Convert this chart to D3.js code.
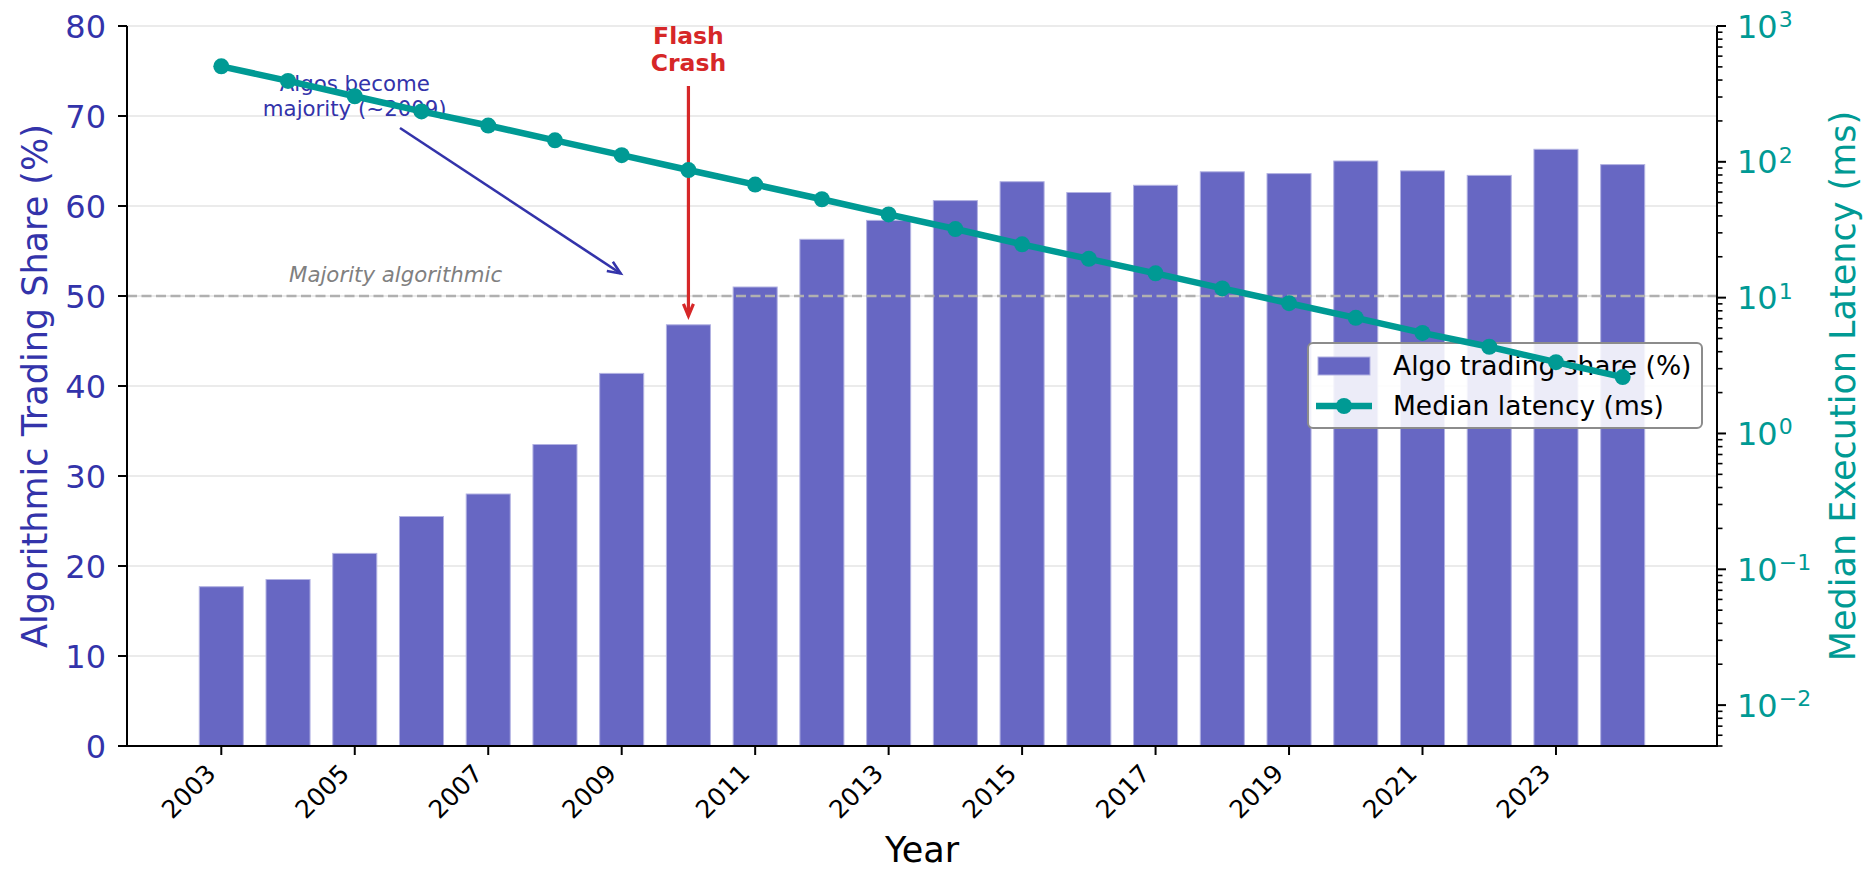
<!DOCTYPE html>
<html>
<head>
<meta charset="utf-8">
<script src="https://cdn.jsdelivr.net/npm/d3@7"></script>
<style>
html,body{margin:0;padding:0;background:#fff;}
svg{display:block;font-family:"DejaVu Sans",sans-serif;}
</style>
</head>
<body>
<svg id="chart" width="1866" height="874"></svg>
<script>
// ---- data ----
const years = [2003,2004,2005,2006,2007,2008,2009,2010,2011,2012,2013,2014,2015,2016,2017,2018,2019,2020,2021,2022,2023,2024];
const algoShare = [17.7,18.5,21.4,25.5,28.0,33.5,41.4,46.8,51.0,56.3,58.4,60.6,62.7,61.5,62.3,63.8,63.6,65.0,63.9,63.4,66.3,64.6];
const latencyMs = [505,394,304,235,185,144,112,87,68,53,41,32,24.7,19.3,15.1,11.7,9.1,7.1,5.5,4.35,3.35,2.6];
const leftTicks = [0,10,20,30,40,50,60,70,80];
const yearTicks = [2003,2005,2007,2009,2011,2013,2015,2017,2019,2021,2023];
const rightExps = [-2,-1,0,1,2,3];
const labels = {
  x: "Year",
  yLeft: "Algorithmic Trading Share (%)",
  yRight: "Median Execution Latency (ms)",
  bars: "Algo trading share (%)",
  line: "Median latency (ms)",
  majority: "Majority algorithmic",
  algoNote: ["Algos become", "majority (~2009)"],
  crash: ["Flash", "Crash"]
};
const majorityLevel = 50;
const crashYear = 2010, crashY = 47.8;
const algoNoteX = 2005, algoNoteTip = [2009, 52.5];

// ---- layout ----
const L = 127, R = 1717, T = 26, B = 746;
const barW = 0.66;
const span = (years[years.length-1] - years[0]) + barW;
const pad = span * 0.05;
const x = d3.scaleLinear()
  .domain([years[0] - barW/2 - pad, years[years.length-1] + barW/2 + pad])
  .range([L, R]);
const y = d3.scaleLinear().domain([0, 80]).range([B, T]);
const y2 = d3.scaleLog().domain([0.005, 1000]).range([B, T]);

const BLUE = "#3333AA", TEAL = "#009A94", RED = "#D62728";
const svg = d3.select("#chart");

// grid
svg.append("g").selectAll("line").data(leftTicks).join("line")
  .attr("x1", L).attr("x2", R)
  .attr("y1", d => y(d)).attr("y2", d => y(d))
  .attr("stroke", "#ebebeb").attr("stroke-width", 1.8);

// bars
svg.append("g").selectAll("rect").data(years).join("rect")
  .attr("x", (d) => x(d - barW/2))
  .attr("width", (d) => x(d + barW/2) - x(d - barW/2))
  .attr("y", (d, i) => y(algoShare[i]))
  .attr("height", (d, i) => y(0) - y(algoShare[i]))
  .attr("fill", "rgb(103,103,195)")
  .attr("stroke", "rgb(178,178,226)").attr("stroke-width", 1);

// majority line
svg.append("line")
  .attr("x1", L).attr("x2", R)
  .attr("y1", y(majorityLevel)).attr("y2", y(majorityLevel))
  .attr("stroke", "#b0b0b0").attr("stroke-width", 2.4)
  .attr("stroke-dasharray", "10,4.5");
svg.append("text")
  .attr("x", x(2004) + 1).attr("y", y(majorityLevel) - 14)
  .attr("font-size", 21.3).attr("font-style", "italic")
  .attr("fill", "#808080").text(labels.majority);

// arrow helper
function arrow(x1, y1, x2, y2, color, w, hl, hw) {
  const g = svg.append("g");
  g.append("line").attr("x1", x1).attr("y1", y1).attr("x2", x2).attr("y2", y2)
    .attr("stroke", color).attr("stroke-width", w);
  const a = Math.atan2(y2 - y1, x2 - x1);
  const bx = x2 - hl * Math.cos(a), by = y2 - hl * Math.sin(a);
  const px = -Math.sin(a) * hw, py = Math.cos(a) * hw;
  g.append("path")
    .attr("d", `M${bx+px},${by+py}L${x2},${y2}L${bx-px},${by-py}`)
    .attr("fill", "none").attr("stroke", color).attr("stroke-width", w)
    .attr("stroke-linejoin", "miter");
}

// algo note
const noteT = svg.append("text").attr("font-size", 21.3).attr("fill", BLUE)
  .attr("text-anchor", "middle");
noteT.append("tspan").attr("x", x(algoNoteX)).attr("y", 91).text(labels.algoNote[0]);
noteT.append("tspan").attr("x", x(algoNoteX)).attr("y", 116).text(labels.algoNote[1]);
arrow(400, 128, x(algoNoteTip[0]) - 1, y(algoNoteTip[1]), BLUE, 2.6, 13, 5.5);

// flash crash
const crT = svg.append("text").attr("font-size", 23.5).attr("font-weight", "bold")
  .attr("fill", RED).attr("text-anchor", "middle");
crT.append("tspan").attr("x", x(crashYear)).attr("y", 44).text(labels.crash[0]);
crT.append("tspan").attr("x", x(crashYear)).attr("y", 71).text(labels.crash[1]);
arrow(x(crashYear), 86, x(crashYear), y(crashY), RED, 3.2, 12, 5);

// legend
const lg = svg.append("g");
lg.append("rect").attr("x", 1308).attr("y", 343).attr("width", 394).attr("height", 85)
  .attr("rx", 5).attr("fill", "rgba(255,255,255,0.88)")
  .attr("stroke", "#8c8c8c").attr("stroke-width", 2);
lg.append("rect").attr("x", 1318).attr("y", 357).attr("width", 52).attr("height", 18)
  .attr("fill", "rgb(103,103,195)").attr("stroke", "rgb(178,178,226)").attr("stroke-width", 1);
lg.append("text").attr("x", 1393).attr("y", 375).attr("font-size", 26.5).attr("fill", "#000")
  .text(labels.bars);
lg.append("line").attr("x1", 1316).attr("x2", 1372).attr("y1", 406).attr("y2", 406)
  .attr("stroke", TEAL).attr("stroke-width", 6.5);
lg.append("circle").attr("cx", 1344).attr("cy", 406).attr("r", 8).attr("fill", TEAL);
lg.append("text").attr("x", 1393).attr("y", 415).attr("font-size", 26.5).attr("fill", "#000")
  .text(labels.line);

// left axis
const ax = svg.append("g");
ax.selectAll("line.lt").data(leftTicks).join("line").attr("class", "lt")
  .attr("x1", L - 9).attr("x2", L).attr("y1", d => y(d)).attr("y2", d => y(d))
  .attr("stroke", "#000").attr("stroke-width", 2);
ax.selectAll("text.lt").data(leftTicks).join("text").attr("class", "lt")
  .attr("x", L - 21).attr("y", d => y(d) + 11.5).attr("text-anchor", "end")
  .attr("font-size", 32).attr("fill", BLUE).text(d => d);

// bottom axis
ax.selectAll("line.bt").data(yearTicks).join("line").attr("class", "bt")
  .attr("x1", d => x(d)).attr("x2", d => x(d)).attr("y1", B).attr("y2", B + 9)
  .attr("stroke", "#000").attr("stroke-width", 2);
ax.selectAll("text.bt").data(yearTicks).join("text").attr("class", "bt")
  .attr("transform", d => `translate(${x(d) - 4},${775}) rotate(-45)`)
  .attr("text-anchor", "end").attr("font-size", 25).attr("fill", "#000").text(d => d);

// right axis
const minor = [];
for (let e = -3; e <= 2; e++) for (let m = 2; m <= 9; m++) {
  const v = m * Math.pow(10, e);
  if (v >= 0.005 && v <= 1000) minor.push(v);
}
ax.selectAll("line.rm").data(minor).join("line").attr("class", "rm")
  .attr("x1", R).attr("x2", R + 5.5).attr("y1", d => y2(d)).attr("y2", d => y2(d))
  .attr("stroke", "#000").attr("stroke-width", 1.6);
ax.selectAll("line.rt").data(rightExps).join("line").attr("class", "rt")
  .attr("x1", R).attr("x2", R + 9).attr("y1", d => y2(Math.pow(10, d))).attr("y2", d => y2(Math.pow(10, d)))
  .attr("stroke", "#000").attr("stroke-width", 2);
const rt = ax.selectAll("text.rt").data(rightExps).join("text").attr("class", "rt")
  .attr("x", R + 20).attr("y", d => y2(Math.pow(10, d)) + 11.5)
  .attr("font-size", 32).attr("fill", TEAL);
rt.append("tspan").text("10");
rt.append("tspan").attr("font-size", 22).attr("dy", -10.5).attr("dx", 1)
  .text(d => (d < 0 ? "\u2212" + (-d) : String(d)));

// spines
ax.append("line").attr("x1", L).attr("x2", L).attr("y1", T).attr("y2", B + 1)
  .attr("stroke", "#000").attr("stroke-width", 2);
ax.append("line").attr("x1", R).attr("x2", R).attr("y1", T).attr("y2", B + 1)
  .attr("stroke", "#000").attr("stroke-width", 2);
ax.append("line").attr("x1", L - 1).attr("x2", R + 1).attr("y1", B).attr("y2", B)
  .attr("stroke", "#000").attr("stroke-width", 2);

// axis labels
svg.append("text").attr("transform", `translate(47,${(T + B) / 2}) rotate(-90)`)
  .attr("text-anchor", "middle").attr("font-size", 35).attr("fill", BLUE).text(labels.yLeft);
svg.append("text").attr("transform", `translate(1855,${(T + B) / 2}) rotate(-90)`)
  .attr("text-anchor", "middle").attr("font-size", 35).attr("fill", TEAL).text(labels.yRight);
svg.append("text").attr("x", (L + R) / 2).attr("y", 862)
  .attr("text-anchor", "middle").attr("font-size", 35).attr("fill", "#000").text(labels.x);

// latency line (secondary axis, on top)
const line = d3.line().x((d, i) => x(years[i])).y(d => y2(d));
svg.append("path").datum(latencyMs).attr("d", line)
  .attr("fill", "none").attr("stroke", TEAL).attr("stroke-width", 6.5)
  .attr("stroke-linejoin", "round");
svg.append("g").selectAll("circle").data(latencyMs).join("circle")
  .attr("cx", (d, i) => x(years[i])).attr("cy", d => y2(d)).attr("r", 8).attr("fill", TEAL);
</script>
</body>
</html>
